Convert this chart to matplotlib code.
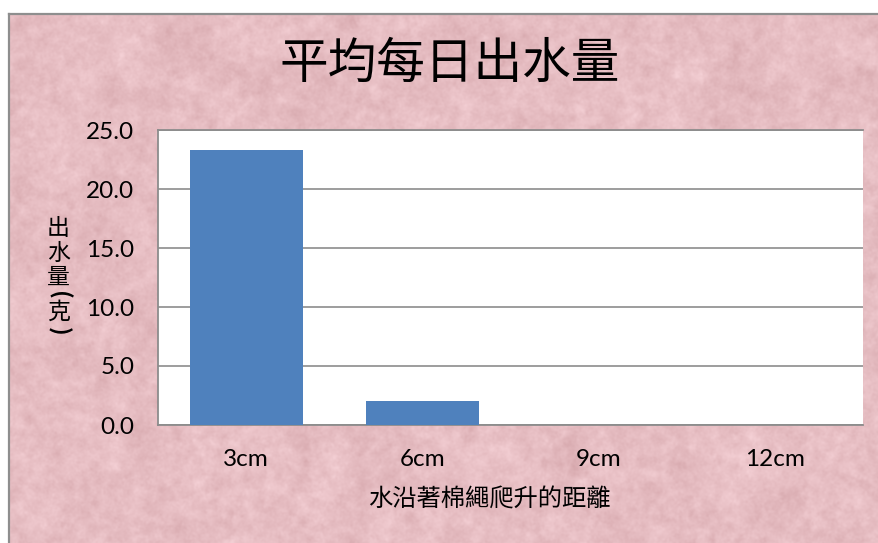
import numpy as np
import matplotlib
matplotlib.use("Agg")
import matplotlib.pyplot as plt

# data
categories = ["3cm", "6cm", "9cm", "12cm"]
water_out = [23.3, 2.0, 0.0, 0.0]
yticks = [0, 5, 10, 15, 20, 25]

title = "平均每日出水量"
xlabel = "水沿著棉繩爬升的距離"
ylabel = "出水量(克)"

CJK = ["Noto Sans CJK TC", "DejaVu Sans"]
LATIN = ["Lato", "DejaVu Sans"]

W, H = 879, 543
fig = plt.figure(figsize=(W / 100, H / 100), dpi=100)
fig.patch.set_facecolor("white")


def px(x, y):
    return x / W, 1 - y / H


# mottled pink paper behind the chart
def smooth_noise(shape, sigma, rng):
    n = rng.normal(size=shape)
    fy = np.fft.fftfreq(shape[0])[:, None]
    fx = np.fft.fftfreq(shape[1])[None, :]
    g = np.exp(-2 * (np.pi * sigma) ** 2 * (fx ** 2 + fy ** 2))
    out = np.real(np.fft.ifft2(np.fft.fft2(n) * g))
    return out / out.std()


rng = np.random.default_rng(11)
shape = (529, 870)
tex = (0.35 * smooth_noise(shape, 10, rng)
       + 0.4 * smooth_noise(shape, 3, rng)
       + 0.25 * smooth_noise(shape, 1, rng))
base = np.array([230, 189, 194]) / 255
amp = np.array([6, 8, 8]) / 255
paper = np.clip(base[None, None, :] + tex[..., None] * amp[None, None, :], 0, 1)

bg = fig.add_axes([9 / W, 0, 870 / W, 529 / H])
bg.imshow(paper, aspect="auto", interpolation="bilinear")
bg.set_xticks([])
bg.set_yticks([])
for side in ["right", "bottom"]:
    bg.spines[side].set_visible(False)
for side in ["left", "top"]:
    bg.spines[side].set_color("#8E8E8E")
    bg.spines[side].set_linewidth(1.6)

# plot area
ax = fig.add_axes([158 / W, 118 / H, 705 / W, 295 / H])
ax.set_facecolor("white")
x = np.arange(len(categories))
ax.bar(x, water_out, width=0.64, color="#4F81BD", zorder=3)
ax.set_xlim(-0.5, len(categories) - 0.5)
ax.set_ylim(0, 25)
ax.set_yticks(yticks)
ax.set_yticklabels([f"{v:.1f}" for v in yticks], family=LATIN, fontsize=17.5)
ax.set_xticks(x)
ax.set_xticklabels(categories, family=LATIN, fontsize=17.5)
ax.tick_params(axis="y", length=0, pad=17)
ax.tick_params(axis="x", length=0, pad=17)
ax.yaxis.grid(True, color="#8C8C8C", linewidth=1.2, zorder=1)
ax.set_axisbelow(True)
for side in ["left", "bottom", "top"]:
    ax.spines[side].set_color("#8C8C8C")
    ax.spines[side].set_linewidth(1.3)
ax.spines["right"].set_visible(False)

# titles
fig.text(*px(450, 64), title, family=CJK, fontsize=35, ha="center", va="center")
fig.text(*px(489, 500), xlabel, family=CJK, fontsize=17.5, ha="center", va="center")

# y label written top to bottom, brackets turned sideways
label_y = [228.5, 253, 277.5, 295, 312, 331.5]
for ch, yy in zip(ylabel, label_y):
    rot = 270 if ch in "()" else 0
    fig.text(*px(58.5, yy), ch, family=CJK, fontsize=16.5, ha="center", va="center",
             rotation=rot, fontweight="bold" if rot else "normal")

fig.savefig("out.png", dpi=100)
